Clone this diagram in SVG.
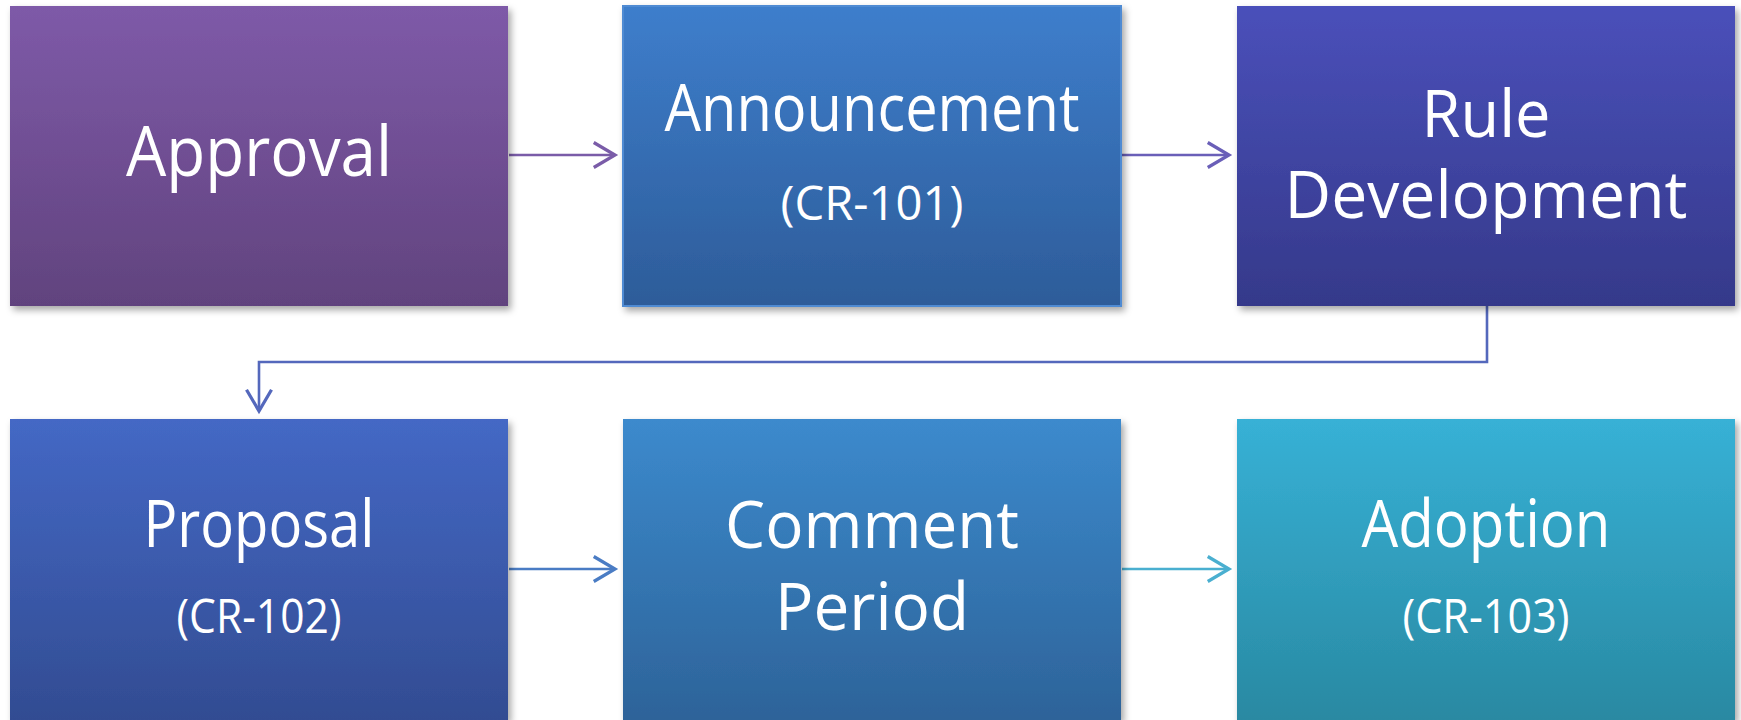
<svg xmlns="http://www.w3.org/2000/svg" width="1741" height="720" viewBox="0 0 1741 720">
<style>
.lbl{font-family:"Open Sans","Noto Sans","Liberation Sans",sans-serif;fill:#ffffff;text-anchor:middle}
.big{font-size:65px}
.small{font-size:47px}
.conn{fill:none;stroke-width:2.6}
</style>
<defs>
<filter id="sh" x="-5%" y="-5%" width="112%" height="115%">
<feDropShadow dx="3" dy="4" stdDeviation="3.5" flood-color="#000" flood-opacity="0.35"/>
</filter>
<linearGradient id="g1" x1="0" y1="0" x2="0" y2="1"><stop offset="0" stop-color="#7E5AA8"/><stop offset="1" stop-color="#61437E"/></linearGradient>
<linearGradient id="g2" x1="0" y1="0" x2="0" y2="1"><stop offset="0" stop-color="#3E7ECC"/><stop offset="1" stop-color="#2D5C99"/></linearGradient>
<linearGradient id="g3" x1="0" y1="0" x2="0" y2="1"><stop offset="0" stop-color="#4A50BA"/><stop offset="1" stop-color="#35398A"/></linearGradient>
<linearGradient id="g4" x1="0" y1="0" x2="0" y2="1"><stop offset="0" stop-color="#4468C5"/><stop offset="1" stop-color="#324C92"/></linearGradient>
<linearGradient id="g5" x1="0" y1="0" x2="0" y2="1"><stop offset="0" stop-color="#3C8ACD"/><stop offset="1" stop-color="#2D6399"/></linearGradient>
<linearGradient id="g6" x1="0" y1="0" x2="0" y2="1"><stop offset="0" stop-color="#37B1D6"/><stop offset="1" stop-color="#2989A2"/></linearGradient>
<marker id="a1" markerUnits="userSpaceOnUse" markerWidth="30" markerHeight="30" refX="20" refY="12" orient="auto" viewBox="0 0 24 24"><path d="M3,2 L20,12 L3,22" fill="none" stroke="#7A5CA8" stroke-width="2.6"/></marker>
<marker id="a2" markerUnits="userSpaceOnUse" markerWidth="30" markerHeight="30" refX="20" refY="12" orient="auto" viewBox="0 0 24 24"><path d="M3,2 L20,12 L3,22" fill="none" stroke="#6A5FB8" stroke-width="2.6"/></marker>
<marker id="a3" markerUnits="userSpaceOnUse" markerWidth="30" markerHeight="30" refX="20" refY="12" orient="auto" viewBox="0 0 24 24"><path d="M3,2 L20,12 L3,22" fill="none" stroke="#5468BC" stroke-width="2.6"/></marker>
<marker id="a4" markerUnits="userSpaceOnUse" markerWidth="30" markerHeight="30" refX="20" refY="12" orient="auto" viewBox="0 0 24 24"><path d="M3,2 L20,12 L3,22" fill="none" stroke="#4A7CC4" stroke-width="2.6"/></marker>
<marker id="a5" markerUnits="userSpaceOnUse" markerWidth="30" markerHeight="30" refX="20" refY="12" orient="auto" viewBox="0 0 24 24"><path d="M3,2 L20,12 L3,22" fill="none" stroke="#4AAFD0" stroke-width="2.6"/></marker>
</defs>
<rect width="1741" height="720" fill="#ffffff"/>
<g id="connectors">
<path class="conn" d="M509,155 H615" stroke="#7A5CA8" marker-end="url(#a1)"/>
<path class="conn" d="M1122,155 H1229" stroke="#6A5FB8" marker-end="url(#a2)"/>
<path class="conn" d="M1487,306 V362 H259 V411" stroke="#5468BC" marker-end="url(#a3)"/>
<path class="conn" d="M509,569 H615" stroke="#4A7CC4" marker-end="url(#a4)"/>
<path class="conn" d="M1122,569 H1229" stroke="#4AAFD0" marker-end="url(#a5)"/>
</g>
<g id="approval">
<rect x="10" y="6" width="498" height="300" fill="url(#g1)" filter="url(#sh)"/>
<text class="lbl" x="259" y="176" font-size="69" textLength="266" lengthAdjust="spacingAndGlyphs">Approval</text>
</g>
<g id="announcement">
<rect x="623" y="6" width="498" height="300" fill="url(#g2)" stroke="#4F8BD3" stroke-width="2" filter="url(#sh)"/>
<text class="lbl big" x="872" y="131" textLength="415" lengthAdjust="spacingAndGlyphs">Announcement</text>
<text class="lbl small" x="872" y="220" textLength="183" lengthAdjust="spacingAndGlyphs">(CR-101)</text>
</g>
<g id="rule-development">
<rect x="1237" y="6" width="498" height="300" fill="url(#g3)" filter="url(#sh)"/>
<text class="lbl big" x="1486" y="137" textLength="129" lengthAdjust="spacingAndGlyphs">Rule</text>
<text class="lbl big" x="1486" y="218" textLength="403" lengthAdjust="spacingAndGlyphs">Development</text>
</g>
<g id="proposal">
<rect x="10" y="419" width="498" height="301" fill="url(#g4)" filter="url(#sh)"/>
<text class="lbl big" x="259" y="547" textLength="231" lengthAdjust="spacingAndGlyphs">Proposal</text>
<text class="lbl small" x="259" y="633" textLength="165" lengthAdjust="spacingAndGlyphs">(CR-102)</text>
</g>
<g id="comment-period">
<rect x="623" y="419" width="498" height="301" fill="url(#g5)" filter="url(#sh)"/>
<text class="lbl big" x="872" y="548" textLength="294" lengthAdjust="spacingAndGlyphs">Comment</text>
<text class="lbl big" x="872" y="630" textLength="194" lengthAdjust="spacingAndGlyphs">Period</text>
</g>
<g id="adoption">
<rect x="1237" y="419" width="498" height="301" fill="url(#g6)" filter="url(#sh)"/>
<text class="lbl big" x="1486" y="547" textLength="249" lengthAdjust="spacingAndGlyphs">Adoption</text>
<text class="lbl small" x="1486" y="633" textLength="167" lengthAdjust="spacingAndGlyphs">(CR-103)</text>
</g>
</svg>
